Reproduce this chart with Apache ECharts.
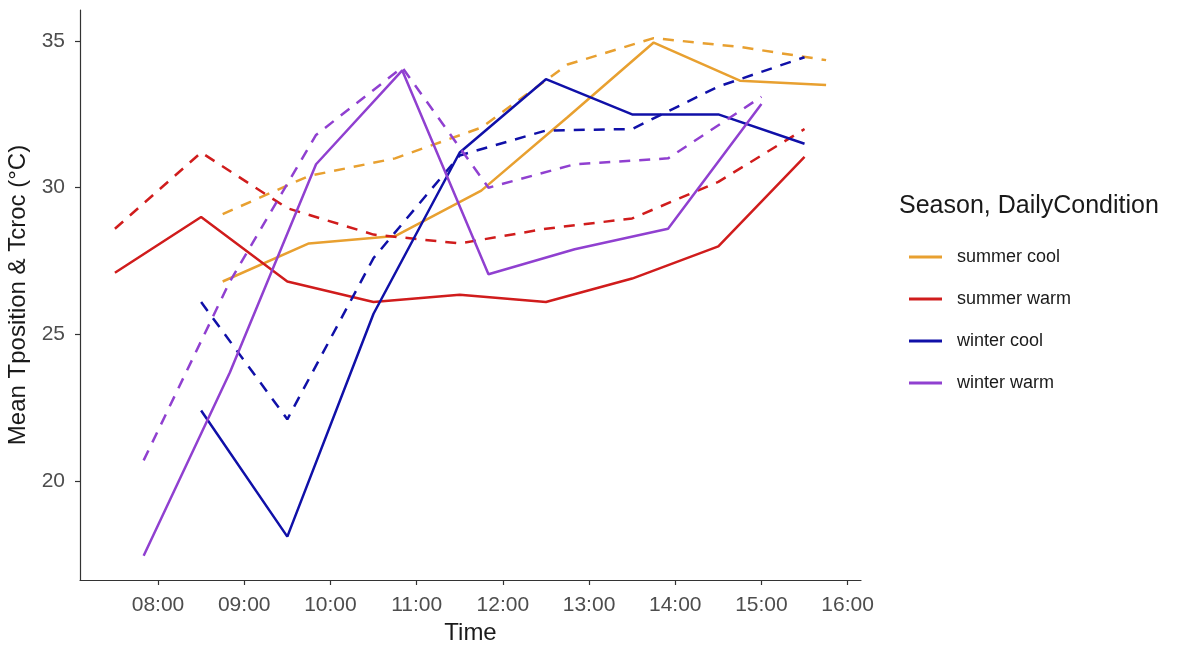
<!DOCTYPE html>
<html>
<head>
<meta charset="utf-8">
<script src="https://cdn.jsdelivr.net/npm/echarts@6/dist/echarts.min.js"></script>
<style>
html,body{margin:0;padding:0;background:#fff;}
#chart{width:1180px;height:646px;}
</style>
</head>
<body>
<div id="chart"></div>
<script>
// ---- data ----
const groups = ["summer cool", "summer warm", "winter cool", "winter warm"];
const groupColors = ["#e8a030", "#d01c1c", "#1010a8", "#9040d0"];

const summerCoolTimes = ["08:45","09:45","10:45","11:45","12:45","13:45","14:45","15:45"];
const summerCoolTposition = [26.8, 28.1, 28.35, 29.9, 32.4, 34.95, 33.65, 33.5];
const summerCoolTcroc     = [29.1, 30.4, 31.0, 32.05, 34.2, 35.1, 34.8, 34.35];

const summerWarmTimes = ["07:30","08:30","09:30","10:30","11:30","12:30","13:30","14:30","15:30"];
const summerWarmTposition = [27.1, 29.0, 26.8, 26.1, 26.35, 26.1, 26.9, 28.0, 31.05];
const summerWarmTcroc     = [28.6, 31.2, 29.3, 28.4, 28.1, 28.6, 28.95, 30.2, 32.0];

const winterCoolTimes = ["08:30","09:30","10:30","11:30","12:30","13:30","14:30","15:30"];
const winterCoolTposition = [22.4, 18.1, 25.7, 31.2, 33.7, 32.5, 32.5, 31.5];
const winterCoolTcroc     = [26.1, 22.1, 27.6, 31.1, 31.95, 32.0, 33.45, 34.45];

const winterWarmTimes = ["07:50","08:50","09:50","10:50","11:50","12:50","13:55","15:00"];
const winterWarmTposition = [17.45, 23.7, 30.8, 34.0, 27.05, 27.9, 28.6, 32.85];
const winterWarmTcroc     = [20.7, 26.8, 31.8, 34.1, 30.0, 30.8, 31.0, 33.1];

const xTickHours = [8, 9, 10, 11, 12, 13, 14, 15, 16];
const yTicks = [20, 25, 30, 35];

// ---- helpers ----
function toHours(s){ const p = s.split(":"); return +p[0] + (+p[1])/60; }
function pairs(times, vals){ return times.map((t,i)=>[toHours(t), vals[i]]); }

const table = [
  [summerCoolTimes, summerCoolTposition, summerCoolTcroc],
  [summerWarmTimes, summerWarmTposition, summerWarmTcroc],
  [winterCoolTimes, winterCoolTposition, winterCoolTcroc],
  [winterWarmTimes, winterWarmTposition, winterWarmTcroc]
];

const series = [];
table.forEach((g, i) => {
  series.push({
    name: groups[i], type: 'line', data: pairs(g[0], g[1]),
    symbol: 'none', color: groupColors[i],
    lineStyle: {width: 2.5, color: groupColors[i]}
  });
  series.push({
    name: groups[i] + ' (Tcroc)', type: 'line', data: pairs(g[0], g[2]),
    symbol: 'none', color: groupColors[i],
    lineStyle: {width: 2.5, type: [11, 9], color: groupColors[i]}
  });
});

const chart = echarts.init(document.getElementById('chart'), null, {renderer: 'canvas'});
chart.setOption({
  animation: false,
  backgroundColor: '#ffffff',
  grid: {left: 80, right: 319, top: 10, bottom: 66, containLabel: false, outerBoundsMode: 'none'},
  xAxis: {
    type: 'value', min: 7.095, max: 16.155,
    name: 'Time', nameLocation: 'middle', nameGap: 40,
    nameTextStyle: {fontFamily: 'Liberation Sans', fontSize: 24, color: '#1a1a1a'},
    splitLine: {show: false},
    axisLine: {show: true, lineStyle: {color: '#333333', width: 1.2}},
    axisTick: {show: true, length: 5, customValues: xTickHours, lineStyle: {color: '#333333', width: 1.2}},
    axisLabel: {
      customValues: xTickHours, margin: 15,
      fontFamily: 'Liberation Sans', fontSize: 21, color: '#4d4d4d',
      formatter: v => (v < 10 ? '0' : '') + Math.round(v) + ':00'
    }
  },
  yAxis: {
    type: 'value', min: 16.62, max: 36.06,
    name: 'Mean Tposition & Tcroc (°C)', nameLocation: 'middle', nameGap: 43,
    nameTextStyle: {fontFamily: 'Liberation Sans', fontSize: 24, color: '#1a1a1a'},
    splitLine: {show: false},
    axisLine: {show: true, lineStyle: {color: '#333333', width: 1.2}},
    axisTick: {show: true, length: 5, customValues: yTicks, lineStyle: {color: '#333333', width: 1.2}},
    axisLabel: {
      customValues: yTicks, margin: 15,
      fontFamily: 'Liberation Sans', fontSize: 21, color: '#4d4d4d'
    }
  },
  legend: {
    data: groups, orient: 'vertical', left: 904, top: 243,
    icon: 'rect', itemWidth: 33, itemHeight: 3, itemGap: 24,
    textStyle: {fontFamily: 'Liberation Sans', fontSize: 18, color: '#1a1a1a', padding: [0, 0, 0, 10]},
    selectedMode: false
  },
  graphic: [{
    type: 'text', left: 899, top: 194,
    style: {text: 'Season, DailyCondition', font: '25px "Liberation Sans"', fill: '#1a1a1a'}
  }],
  series: series
});
</script>
</body>
</html>
